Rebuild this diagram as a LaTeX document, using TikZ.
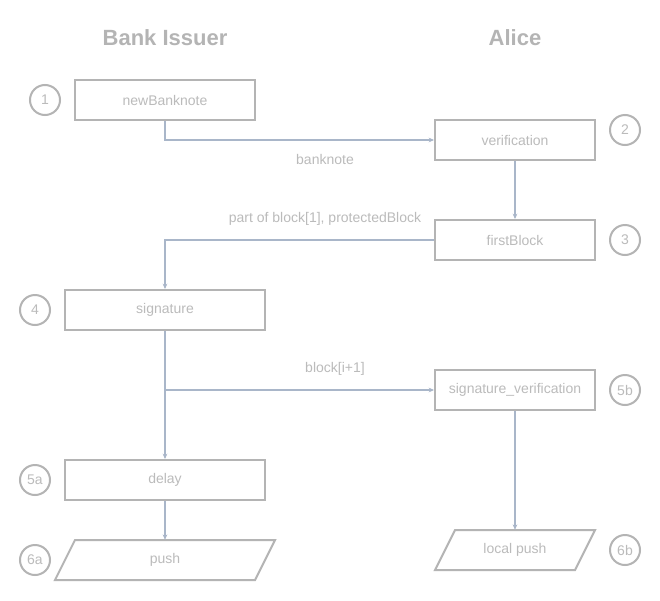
\documentclass[tikz,border=0pt]{standalone}
\usepackage{fontspec}
\setmainfont{Liberation Sans}
\usetikzlibrary{arrows.meta}
\definecolor{boxgray}{HTML}{B4B4B4}
\definecolor{txtgray}{HTML}{BBBBBB}
\definecolor{linegray}{HTML}{A9B6C9}
\begin{document}
\begin{tikzpicture}[x=0.75pt,y=-0.75pt,
  stepbox/.style={draw=boxgray,line width=1.5pt,minimum height=30pt,inner sep=0pt,text=txtgray,font=\fontsize{10.5}{12}\selectfont},
  numcirc/.style={draw=boxgray,line width=1.5pt,circle,minimum size=22.5pt,inner sep=0pt,text=txtgray,font=\fontsize{10.5}{12}\selectfont},
  para/.style={draw=boxgray,line width=1.5pt,line join=miter},
  ptext/.style={inner sep=0pt,minimum height=30pt,text=txtgray,font=\fontsize{10.5}{12}\selectfont},
  title/.style={text=boxgray,font=\bfseries\fontsize{16.5}{19}\selectfont},
  lbl/.style={text=txtgray,font=\fontsize{10.5}{12}\selectfont},
  conn/.style={draw=linegray,line width=0.9pt,-{Stealth[length=4pt,width=3.5pt]}}
]
\useasboundingbox (0,0) rectangle (660,600);
\fill[white] (0,0) rectangle (660,600);

\node[title] (tbank) at (165,38) {Bank Issuer};
\node[title] (talice) at (515,38) {Alice};

\node[stepbox,minimum width=135pt] (nb) at (165,100) {newBanknote};
\node[stepbox,minimum width=120pt] (ver) at (515,140) {verification};
\node[stepbox,minimum width=120pt] (fb) at (515,240) {firstBlock};
\node[stepbox,minimum width=150pt] (sig) at (165,310) {signature};
\node[stepbox,minimum width=120pt] (sv) at (515,390) {signature\_verification};
\node[stepbox,minimum width=150pt] (dl) at (165,480) {delay};

\draw[para] (55,580) -- (75,540) -- (275,540) -- (255,580) -- cycle;
\node[ptext,minimum width=150pt] (push) at (165,560) {push};
\draw[para] (435,570) -- (455,530) -- (595,530) -- (575,570) -- cycle;
\node[ptext,minimum width=105pt] (lpush) at (515,550) {local push};

\node[numcirc] (c1) at (45,100) {1};
\node[numcirc] (c2) at (625,130) {2};
\node[numcirc] (c3) at (625,240) {3};
\node[numcirc] (c4) at (35,310) {4};
\node[numcirc] (c5b) at (625,390) {5b};
\node[numcirc] (c5a) at (35,480) {5a};
\node[numcirc] (c6a) at (35,560) {6a};
\node[numcirc] (c6b) at (625,550) {6b};

\draw[conn] (nb.south) |- (ver.west);
\node[lbl] (l1) at (325,159) {banknote};
\draw[conn] (ver.south) -- (fb.north);
\draw[conn] (fb.west) -| (sig.north);
\node[lbl] (l2) at (325,219) {part of block[1], protectedBlock};
\draw[conn] (sig.south) |- (sv.west);
\node[lbl] (l3) at (335,369) {block[i+1]};
\draw[conn] (sig.south) -- (dl.north);
\draw[conn] (dl.south) -- (push.north);
\draw[conn] (sv.south) -- (lpush.north);
\end{tikzpicture}
\end{document}
